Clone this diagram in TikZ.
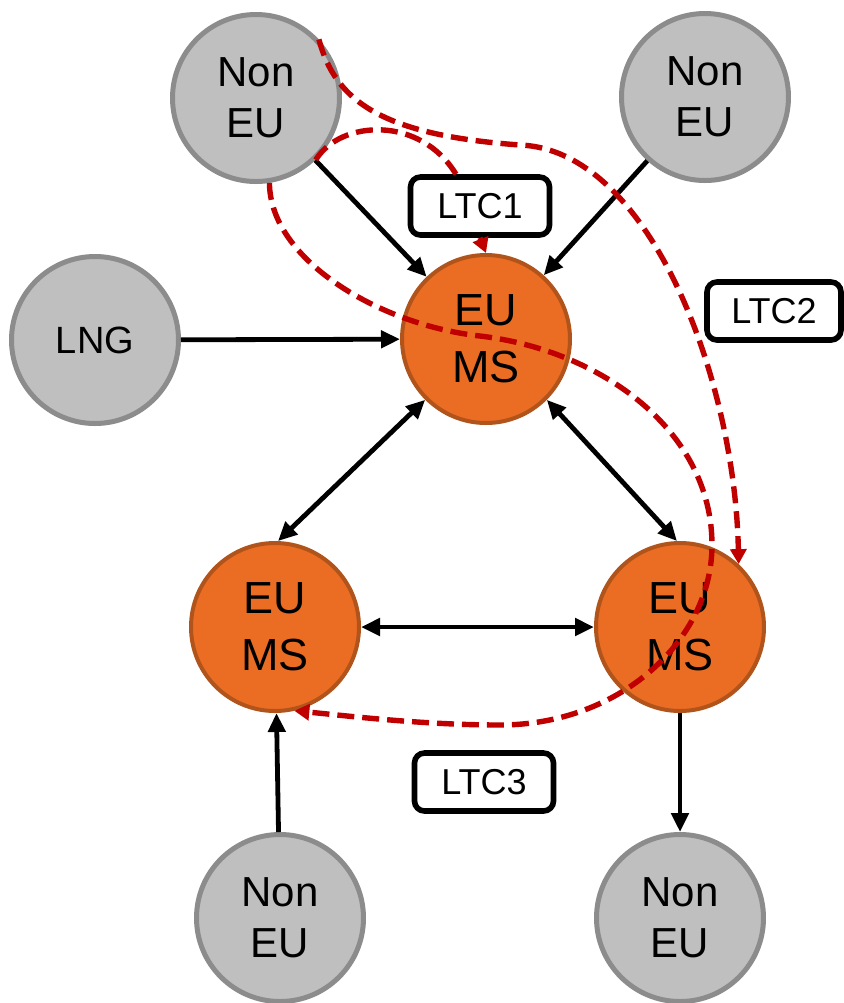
\documentclass[tikz,border=0pt]{standalone}
\usepackage{fontspec}
\setmainfont{Liberation Sans}
\usetikzlibrary{arrows.meta,calc}
\definecolor{grayfill}{HTML}{BFBFBF}
\definecolor{grayline}{HTML}{8C8C8C}
\definecolor{orfill}{HTML}{EB6C23}
\definecolor{orline}{HTML}{B0541C}
\definecolor{ltcred}{HTML}{C00000}
\begin{document}
\begin{tikzpicture}[x=0.5pt,y=-0.5pt,
  noneu/.style={circle,fill=grayfill,draw=grayline,line width=2.5pt,minimum size=83.5pt,inner sep=0pt,align=center,font=\fontsize{21}{25.5}\selectfont},
  eums/.style={circle,fill=orfill,draw=orline,line width=2pt,minimum size=84pt,inner sep=0pt,align=center,font=\fontsize{22.5}{28.5}\selectfont},
  ltcbox/.style={draw=black,fill=white,line width=2.8pt,rounded corners=5pt,minimum width=69.5pt,minimum height=29pt,inner sep=0pt,font=\fontsize{18}{21}\selectfont},
  flow/.style={line width=2.4pt,-{Triangle[length=9.5pt,width=8.5pt]}},
  bflow/.style={line width=2.4pt,{Triangle[length=9.5pt,width=8.5pt]}-{Triangle[length=9.5pt,width=8.5pt]}},
  ltc/.style={draw=ltcred,line width=2.7pt,dash pattern=on 8.5pt off 4pt},
  ltcarrow/.style={-{Triangle[length=7.5pt,width=8pt]}}
]
\useasboundingbox (0,0) rectangle (844,1003);

\node[noneu] (ntl) at (256,98) {Non\\EU};
\node[noneu] (ntr) at (705,97) {Non\\EU};
\node[noneu,font=\fontsize{19}{23}\selectfont] (lng) at (95,340) {LNG};
\node[eums] (eut) at (486,339) {EU\\MS};
\node[eums] (eul) at (275,627) {EU\\MS};
\node[eums] (eur) at (680,627) {EU\\MS};
\node[noneu] (nbl) at (280,918) {Non\\EU};
\node[noneu] (nbr) at (680,918) {Non\\EU};
\node[ltcbox] (ltc1) at (480,206) {LTC1};
\node[ltcbox,minimum width=67pt] (ltc2) at (774,311) {LTC2};
\node[ltcbox] (ltc3) at (484,782) {LTC3};

\draw[flow] (ntl) -- (eut);
\draw[flow] (ntr) -- (eut);
\draw[flow] (lng) -- (eut);
\draw[bflow] (eut.225) -- (eul.88);
\draw[bflow] (eut.-45) -- (eur.92);
\draw[bflow] (eul) -- (eur);
\draw[flow] (nbl) -- (eul);
\draw[flow] (eur) -- (nbr);

\draw[ltc] (ntl.-46) .. controls (340,120) and (420,115) .. ([xshift=-12pt]ltc1.north);
\draw[ltc,ltcarrow] (ltc1.south) -- (eut.north);
\draw[ltc,ltcarrow] (ntl.43) .. controls (335,100) and (380,135) .. (520,145) .. controls (650,150) and (735,380) .. (eur.47);
\draw[ltc,ltcarrow] (ntl.-81) .. controls (270,260) and (380,325) .. (480,336) .. controls (600,350) and (712,430) .. (712,545) .. controls (712,640) and (620,725) .. (500,725) .. controls (420,725) and (340,715) .. (eul.-77);
\end{tikzpicture}
\end{document}
